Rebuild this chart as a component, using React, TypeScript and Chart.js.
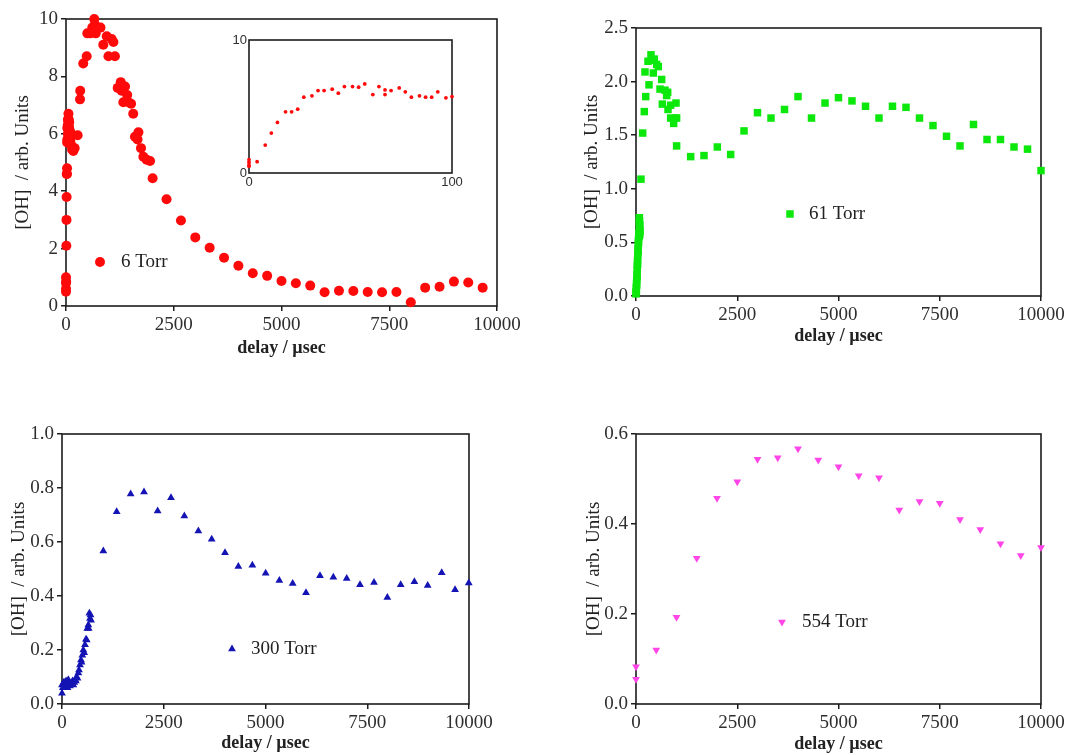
import React, { useEffect, useRef } from 'react';
import { Chart, registerables } from 'chart.js';

Chart.register(...registerables);

// ---------------- DATA ----------------
// 6 Torr (top-left) – delay in µs, [OH] in arb. units
const torr6Delay = [
  0, 0, 0, 0, 4, 8, 11, 14, 18, 21, 24, 27, 31, 34, 37, 41, 44, 47, 51, 54, 57, 61, 64, 67, 67, 70, 74, 77, 80, 84, 87, 90, 93, 97, 100,
  110, 125, 140, 170, 200, 270, 325, 330, 400, 480, 495, 560, 610, 655, 670, 690, 735, 800, 865, 945, 985, 1060, 1100, 1135,
  1200, 1270, 1290, 1330, 1370, 1420, 1450, 1510, 1560, 1600, 1660, 1680, 1740, 1795, 1870, 1950, 2010,
  2333, 2667, 3000, 3333, 3667, 4000, 4333, 4667, 5000, 5333, 5667, 6000, 6333, 6667, 7000, 7333, 7667, 8000, 8333, 8667, 9000, 9333, 9667,
];
const torr6OH = [
  1.0, 0.8, 0.6, 0.5, 0.85, 2.1, 3.0, 3.8, 4.6, 4.6, 4.8, 5.7, 5.8, 6.2, 6.2, 6.3, 6.0, 6.5, 6.5, 6.45, 6.7, 5.9, 6.5, 6.25, 5.9, 6.2, 6.4, 6.1, 5.7, 5.8, 5.7, 5.7, 6.1, 5.65, 5.75,
  6.0, 5.6, 5.45, 5.4, 5.5, 5.95, 7.2, 7.5, 8.45, 8.7, 9.5, 9.5, 9.7, 10.0, 9.8, 9.5, 9.7, 9.7, 9.1, 9.4, 8.7, 9.3, 9.2, 8.7,
  7.6, 7.8, 7.5, 7.1, 7.65, 7.35, 7.1, 7.05, 6.7, 5.9, 5.8, 6.05, 5.5, 5.2, 5.1, 5.05, 4.45,
  3.72, 2.98, 2.39, 2.03, 1.68, 1.4, 1.14, 1.05, 0.87, 0.79, 0.71, 0.48, 0.53, 0.52, 0.49, 0.48, 0.49, 0.13, 0.64, 0.67, 0.85, 0.82, 0.64,
];
const insetMaxDelay = 100;

// 61 Torr (top-right)
const torr61Delay = [
  0, 3, 7, 10, 13, 17, 20, 23, 27, 30, 33, 37, 40, 43, 47, 50, 53, 57, 60, 63, 67, 70, 73, 77, 80, 83, 87, 90, 93, 97, 100,
  123, 165, 205, 240, 222, 296, 321, 370, 395, 428, 453, 510, 551, 593, 634, 650, 716, 757, 782, 790, 856, 856, 930, 971, 988, 1003, 1003,
  1350, 1679, 2008, 2337, 2667, 3000, 3333, 3667, 4000, 4333, 4667, 5000, 5333, 5667, 6000, 6333, 6667, 7000, 7333, 7667, 8000, 8333, 8667, 9000, 9333, 9667, 10000,
];
const torr61OH = [
  0.02, 0.04, 0.08, 0.05, 0.12, 0.1, 0.15, 0.2, 0.18, 0.25, 0.28, 0.33, 0.3, 0.37, 0.4, 0.44, 0.42, 0.48, 0.52, 0.5, 0.55, 0.58, 0.56, 0.6, 0.68, 0.73, 0.7, 0.62, 0.57, 0.66, 0.6,
  1.09, 1.52, 1.72, 1.86, 2.09, 2.19, 1.97, 2.25, 2.2, 2.08, 2.21, 2.16, 2.14, 1.93, 2.02, 1.79, 1.92, 1.87, 1.9, 1.74, 1.78, 1.66, 1.61, 1.66, 1.8, 1.66, 1.4,
  1.3, 1.31, 1.39, 1.32, 1.54, 1.71, 1.66, 1.74, 1.86, 1.66, 1.8, 1.85, 1.82, 1.77, 1.66, 1.77, 1.76, 1.66, 1.59, 1.49, 1.4, 1.6, 1.46, 1.46, 1.39, 1.37, 1.17,
];

// 300 Torr (bottom-left)
const torr300Delay = [
  0, 0, 20, 40, 57, 80, 100, 115, 135, 156, 175, 197, 215, 238, 260, 279, 300, 320, 340, 360, 380, 401, 418, 442, 467, 480, 500, 524, 545, 565, 590, 606, 622, 647, 655, 672, 688, 700, 713,
  1015, 1343, 1687, 2015, 2350, 2678, 3006, 3350, 3678, 4005, 4333, 4677, 5004, 5340, 5668, 5995, 6339, 6667, 6995, 7322, 7666, 7994, 8322, 8658, 8985, 9330, 9658, 9994,
];
const torr300OH = [
  0.04, 0.07, 0.06, 0.08, 0.08, 0.07, 0.085, 0.07, 0.06, 0.09, 0.08, 0.067, 0.075, 0.078, 0.085, 0.07, 0.08, 0.09, 0.085, 0.1, 0.095, 0.115, 0.126, 0.144, 0.163, 0.155, 0.181, 0.2, 0.19, 0.219, 0.24, 0.237, 0.28, 0.293, 0.28, 0.336, 0.317, 0.33, 0.31,
  0.567, 0.712, 0.778, 0.785, 0.715, 0.764, 0.696, 0.641, 0.61, 0.56, 0.509, 0.514, 0.484, 0.457, 0.446, 0.412, 0.475, 0.469, 0.465, 0.442, 0.45, 0.394, 0.442, 0.453, 0.439, 0.486, 0.423, 0.448,
];

// 554 Torr (bottom-right)
const torr554Delay = [0, 0, 500, 1000, 1500, 2000, 2500, 3000, 3500, 4000, 4500, 5000, 5500, 6000, 6500, 7000, 7500, 8000, 8500, 9000, 9500, 10000];
const torr554OH = [0.083, 0.055, 0.12, 0.193, 0.324, 0.457, 0.494, 0.544, 0.547, 0.567, 0.542, 0.527, 0.507, 0.503, 0.431, 0.45, 0.446, 0.41, 0.388, 0.356, 0.33, 0.348];

// tick values
const delayTicks = [0, 2500, 5000, 7500, 10000];
const torr6Ticks = [0, 2, 4, 6, 8, 10];
const torr61Ticks = [0, 0.5, 1.0, 1.5, 2.0, 2.5];
const torr300Ticks = [0, 0.2, 0.4, 0.6, 0.8, 1.0];
const torr554Ticks = [0, 0.2, 0.4, 0.6];
const insetDelayTicks = [0, 100];
const insetOHTicks = [0, 10];

// labels
const xTitleText = 'delay / µsec';
const yTitleText = '[OH]  / arb. Units';
const legend6 = '6 Torr';
const legend61 = '61 Torr';
const legend300 = '300 Torr';
const legend554 = '554 Torr';

// ---------------- STYLE ----------------
const SERIF = '"Liberation Serif", "Times New Roman", serif';
const SANS = '"Liberation Sans", Arial, sans-serif';
const INK = '#1c1c1c';
const LABEL = '#2e2e2e';

type Spec = {
  left: number; top: number; width: number; height: number;
  area: { left: number; top: number; right: number; bottom: number };
  xs: number[]; ys: number[];
  xTicks: number[]; yTicks: number[]; xDec: number; yDec: number;
  color: string; pointStyle: string; radius: number; rotation: number;
  xTitle?: string; yTitle?: string; xTitlePad?: number; yTitlePad?: number;
  legend?: { mx: number; my: number; tx: number; text: string };
  tickFont: any; tickLen: number; tickPad: number; frameWidth: number;
};

function drawMarker(ctx: CanvasRenderingContext2D, style: string, x: number, y: number, r: number, rot: number, color: string) {
  ctx.save();
  ctx.fillStyle = color;
  ctx.beginPath();
  if (style === 'circle') {
    ctx.arc(x, y, r, 0, Math.PI * 2);
  } else if (style === 'rect') {
    const s = r * Math.SQRT1_2;
    ctx.rect(x - s, y - s, 2 * s, 2 * s);
  } else {
    let rad = (rot * Math.PI) / 180;
    ctx.moveTo(x + Math.sin(rad) * r, y - Math.cos(rad) * r);
    rad += (2 * Math.PI) / 3;
    ctx.lineTo(x + Math.sin(rad) * r, y - Math.cos(rad) * r);
    rad += (2 * Math.PI) / 3;
    ctx.lineTo(x + Math.sin(rad) * r, y - Math.cos(rad) * r);
    ctx.closePath();
  }
  ctx.fill();
  ctx.restore();
}

const framePlugin = {
  id: 'frameBox',
  beforeDatasetsDraw(chart: any, _args: any, opts: any) {
    const { ctx, chartArea: a } = chart;
    ctx.save();
    ctx.strokeStyle = INK;
    ctx.lineWidth = opts.width || 1.5;
    ctx.strokeRect(a.left, a.top, a.right - a.left, a.bottom - a.top);
    ctx.restore();
  },
};

const torrLegendPlugin = {
  id: 'torrLegend',
  afterDraw(chart: any, _args: any, opts: any) {
    if (!opts || !opts.text) return;
    const ctx = chart.ctx;
    drawMarker(ctx, opts.style, opts.mx, opts.my, opts.radius, opts.rotation, opts.color);
    ctx.save();
    ctx.fillStyle = '#222';
    ctx.font = `19px ${SERIF}`;
    ctx.textBaseline = 'middle';
    ctx.textAlign = 'left';
    ctx.fillText(opts.text, opts.tx, opts.my);
    ctx.restore();
  },
};

function buildConfig(s: Spec): any {
  const points = s.xs.map((x, i) => ({ x, y: s.ys[i] }));
  const xMin = s.xTicks[0];
  const xMax = s.xTicks[s.xTicks.length - 1];
  const yMin = s.yTicks[0];
  const yMax = s.yTicks[s.yTicks.length - 1];
  return {
    type: 'scatter',
    data: {
      datasets: [
        {
          data: points,
          showLine: false,
          pointStyle: s.pointStyle,
          pointRadius: s.radius,
          pointRotation: s.rotation,
          pointBackgroundColor: s.color,
          pointBorderColor: s.color,
          pointBorderWidth: 0,
          pointHoverRadius: s.radius,
          clip: false,
        },
      ],
    },
    plugins: [framePlugin, torrLegendPlugin],
    options: {
      animation: false,
      responsive: false,
      devicePixelRatio: 1,
      events: [],
      layout: { padding: { left: 0, top: s.area.top, right: s.width - s.area.right, bottom: 0 } },
      plugins: {
        legend: { display: false },
        tooltip: { enabled: false },
        frameBox: { width: s.frameWidth },
        torrLegend: s.legend
          ? { ...s.legend, style: s.pointStyle, radius: s.radius, rotation: s.rotation, color: s.color }
          : {},
      },
      scales: {
        x: {
          type: 'linear',
          min: xMin,
          max: xMax,
          afterBuildTicks: (sc: any) => {
            sc.ticks = s.xTicks.map((v) => ({ value: v }));
          },
          afterFit: (sc: any) => {
            sc.height = s.height - s.area.bottom;
          },
          ticks: {
            font: s.tickFont,
            color: LABEL,
            padding: s.tickPad,
            maxRotation: 0,
            autoSkip: false,
            callback: (v: any) => Number(v).toFixed(s.xDec),
          },
          grid: {
            drawOnChartArea: false,
            drawTicks: s.tickLen > 0,
            tickLength: s.tickLen,
            color: INK,
            lineWidth: 1.5,
          },
          border: { display: false },
          title: s.xTitle
            ? {
                display: true,
                text: s.xTitle,
                color: '#222',
                font: { family: SERIF, size: 18, weight: 'bold' },
                padding: { top: 0, bottom: s.xTitlePad },
              }
            : { display: false },
        },
        y: {
          type: 'linear',
          min: yMin,
          max: yMax,
          afterBuildTicks: (sc: any) => {
            sc.ticks = s.yTicks.map((v) => ({ value: v }));
          },
          afterFit: (sc: any) => {
            sc.width = s.area.left;
          },
          ticks: {
            font: s.tickFont,
            color: LABEL,
            padding: s.tickPad,
            autoSkip: false,
            callback: (v: any) => Number(v).toFixed(s.yDec),
          },
          grid: {
            drawOnChartArea: false,
            drawTicks: s.tickLen > 0,
            tickLength: s.tickLen,
            color: INK,
            lineWidth: 1.5,
          },
          border: { display: false },
          title: s.yTitle
            ? {
                display: true,
                text: s.yTitle,
                color: '#222',
                font: { family: SERIF, size: 19 },
                padding: { top: s.yTitlePad, bottom: 0 },
              }
            : { display: false },
        },
      },
    },
  };
}

const mainTickFont = { family: SERIF, size: 19 };
const insetTickFont = { family: SANS, size: 13 };

const specs: Spec[] = [
  {
    left: 0, top: 0, width: 530, height: 370,
    area: { left: 66, top: 19, right: 497, bottom: 306 },
    xs: torr6Delay, ys: torr6OH, xTicks: delayTicks, yTicks: torr6Ticks, xDec: 0, yDec: 0,
    color: '#ff0a0a', pointStyle: 'circle', radius: 5, rotation: 0,
    xTitle: xTitleText, yTitle: yTitleText, xTitlePad: 11, yTitlePad: 12,
    legend: { mx: 100, my: 262, tx: 121, text: legend6 },
    tickFont: mainTickFont, tickLen: 5, tickPad: 3, frameWidth: 1.6,
  },
  {
    left: 560, top: 0, width: 508, height: 360,
    area: { left: 76, top: 28, right: 481, bottom: 296 },
    xs: torr61Delay, ys: torr61OH, xTicks: delayTicks, yTicks: torr61Ticks, xDec: 0, yDec: 1,
    color: '#0ce80c', pointStyle: 'rect', radius: 5.3, rotation: 0,
    xTitle: xTitleText, yTitle: yTitleText, xTitlePad: 13, yTitlePad: 21,
    legend: { mx: 230, my: 214, tx: 249, text: legend61 },
    tickFont: mainTickFont, tickLen: 5, tickPad: 3, frameWidth: 1.6,
  },
  {
    left: 0, top: 400, width: 520, height: 355,
    area: { left: 62, top: 34, right: 469, bottom: 304 },
    xs: torr300Delay, ys: torr300OH, xTicks: delayTicks, yTicks: torr300Ticks, xDec: 0, yDec: 1,
    color: '#1414b4', pointStyle: 'triangle', radius: 4.5, rotation: 0,
    xTitle: xTitleText, yTitle: yTitleText, xTitlePad: 1, yTitlePad: 8,
    legend: { mx: 232, my: 249, tx: 251, text: legend300 },
    tickFont: mainTickFont, tickLen: 5, tickPad: 3, frameWidth: 1.6,
  },
  {
    left: 560, top: 400, width: 508, height: 355,
    area: { left: 76, top: 34, right: 481, bottom: 304 },
    xs: torr554Delay, ys: torr554OH, xTicks: delayTicks, yTicks: torr554Ticks, xDec: 0, yDec: 1,
    color: '#ff45e8', pointStyle: 'triangle', radius: 4.5, rotation: 180,
    xTitle: xTitleText, yTitle: yTitleText, xTitlePad: 0, yTitlePad: 23,
    legend: { mx: 222, my: 222, tx: 242, text: legend554 },
    tickFont: mainTickFont, tickLen: 5, tickPad: 3, frameWidth: 1.6,
  },
];

const insetSpec: Spec = {
  left: 200, top: 20, width: 280, height: 180,
  area: { left: 49, top: 20, right: 252, bottom: 153 },
  xs: torr6Delay.filter((d) => d <= insetMaxDelay),
  ys: torr6OH.filter((_v, i) => torr6Delay[i] <= insetMaxDelay),
  xTicks: insetDelayTicks, yTicks: insetOHTicks, xDec: 0, yDec: 0,
  color: '#ff0a0a', pointStyle: 'circle', radius: 1.9, rotation: 0,
  tickFont: insetTickFont, tickLen: 0, tickPad: 2, frameWidth: 1.6,
};

function Panel({ spec }: { spec: Spec }) {
  const ref = useRef<HTMLCanvasElement | null>(null);
  useEffect(() => {
    if (!ref.current) return;
    const chart = new Chart(ref.current, buildConfig(spec));
    return () => chart.destroy();
  }, [spec]);
  return (
    <div style={{ position: 'absolute', left: spec.left, top: spec.top, width: spec.width, height: spec.height }}>
      <canvas
        ref={ref}
        width={spec.width}
        height={spec.height}
        style={{ width: spec.width, height: spec.height, display: 'block' }}
      />
    </div>
  );
}

export default function App() {
  return (
    <div style={{ position: 'absolute', left: 0, top: 0, width: 1068, height: 755, background: '#ffffff', overflow: 'hidden' }}>
      {specs.map((s, i) => (
        <Panel key={i} spec={s} />
      ))}
      <Panel spec={insetSpec} />
    </div>
  );
}
